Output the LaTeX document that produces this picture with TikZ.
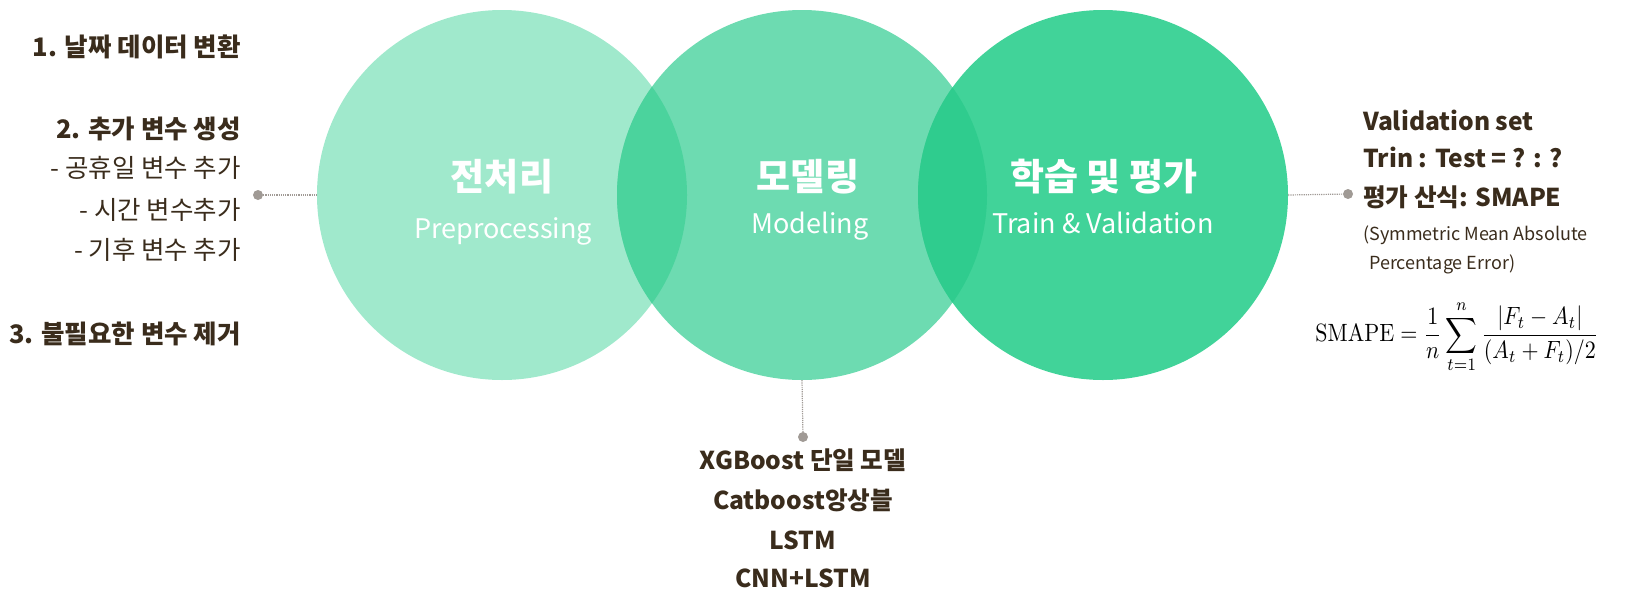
\documentclass[tikz,border=0pt]{standalone}
\usepackage[no-math]{fontspec}
\setmainfont{Noto Sans CJK KR}
\definecolor{txt}{HTML}{3A2C1C}
\definecolor{cA}{HTML}{A0E9CC}
\definecolor{cB}{HTML}{6DDBB1}
\definecolor{cC}{HTML}{41D399}
\definecolor{oAB}{HTML}{4BD39D}
\definecolor{oBC}{HTML}{2FCC8E}
\definecolor{dotgray}{HTML}{A09A95}
\tikzset{
  ring/.style={circle, minimum size=370pt, inner sep=0pt, draw=none},
  title/.style={text=white, font=\fontsize{37}{40}\selectfont\bfseries, inner sep=0pt},
  subtitle/.style={text=white, font=\fontsize{27}{30}\selectfont, inner sep=0pt},
  boldline/.style={text=txt, font=\fontsize{25.5}{28}\selectfont\bfseries, inner sep=0pt},
  midline/.style={text=txt, font=\fontsize{24.6}{28}\selectfont\bfseries, inner sep=0pt},
  plainline/.style={text=txt, font=\fontsize{25.5}{28}\selectfont, inner sep=0pt},
  smallline/.style={text=txt, font=\fontsize{18}{22}\selectfont, inner sep=0pt},
  pin/.style={circle, fill=dotgray, minimum size=10pt, inner sep=0pt},
  link/.style={dotgray, densely dotted, line width=1.2pt}
}
\begin{document}
\begin{tikzpicture}[x=1pt,y=-1pt]
\useasboundingbox (0,0) rectangle (1637,603);
% circles
\node[ring, fill=cA] (c1) at (502,195) {};
\node[ring, fill=cB] (c2) at (802,195) {};
\node[ring, fill=cC] (c3) at (1103,195) {};
\begin{scope}
  \clip (502,195) circle [radius=185pt];
  \fill[oAB] (802,195) circle [radius=185pt];
\end{scope}
\begin{scope}
  \clip (802,195) circle [radius=185pt];
  \fill[oBC] (1103,195) circle [radius=185pt];
\end{scope}
% circle labels
\node[title] (t1) at (502,177) {전처리};
\node[subtitle] (s1) at (503,231) {Preprocessing};
\node[title] (t2) at (808,177) {모델링};
\node[subtitle] (s2) at (810,226) {Modeling};
\node[title] (t3) at (1104,177) {학습 및 평가};
\node[subtitle] (s3) at (1103,223) {Train \& Validation};
% left
\node[pin] (ldot) at (258,195) {};
\draw[link] (ldot) -- (c1.west);
\node[boldline, anchor=east] (l1) at (241,47) {1. 날짜 데이터 변환};
\node[boldline, anchor=east] (l2) at (241,129) {2. 추가 변수 생성};
\node[plainline, anchor=east] (l3) at (241,168) {- 공휴일 변수 추가};
\node[plainline, anchor=east] (l4) at (241,210) {- 시간 변수추가};
\node[plainline, anchor=east] (l5) at (241,250) {- 기후 변수 추가};
\node[boldline, anchor=east] (l6) at (241,334) {3. 불필요한 변수 제거};
% bottom
\node[pin] (bdot) at (803,437) {};
\draw[link] (c2.south) -- (bdot);
\node[midline] (b1) at (803,460) {XGBoost 단일 모델};
\node[midline] (b2) at (803,500) {Catboost앙상블};
\node[midline] (b3) at (803,540) {LSTM};
\node[midline] (b4) at (803,578) {CNN+LSTM};
% right
\node[pin] (rdot) at (1348,194) {};
\draw[link] (c3.east) -- (rdot);
\node[midline, anchor=west] (r1) at (1363,120) {Validation set};
\node[midline, anchor=west] (r2) at (1363,157) {Trin : Test = ? : ?};
\node[midline, anchor=west] (r3) at (1363,197) {평가 산식: SMAPE};
\node[smallline, anchor=west] (r4) at (1363,235) {(Symmetric Mean Absolute};
\node[smallline, anchor=west] (r5) at (1369,264) {Percentage Error)};
\node[text=black, xscale=2.2, yscale=2.5, inner sep=0pt] (f) at (1457,337) {$\displaystyle \mathrm{SMAPE}=\frac{1}{n}\sum_{t=1}^{n}\frac{|F_t-A_t|}{(A_t+F_t)/2}$};
\end{tikzpicture}
\end{document}
